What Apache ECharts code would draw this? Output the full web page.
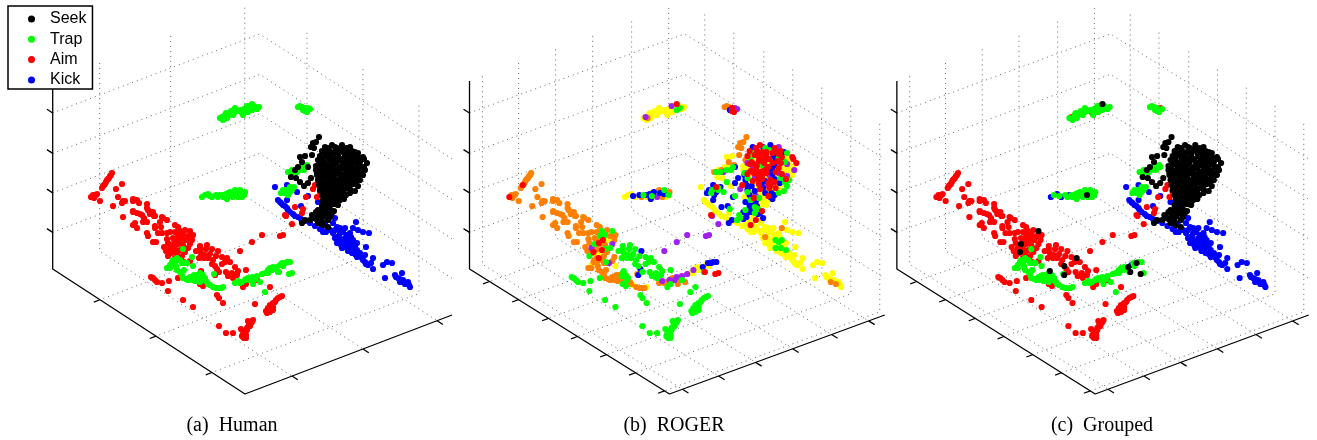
<!DOCTYPE html>
<html><head><meta charset="utf-8">
<style>html,body{margin:0;padding:0;background:#fff}#c{width:1317px;height:440px}</style>
<script src="https://cdn.jsdelivr.net/npm/echarts@6/dist/echarts.min.js"></script>
</head><body><div id="c"></div>
<script>
// Point positions in the Human panel's frame; label strings: k seek, g trap, r aim, b kick, o orange, y yellow, p purple.
// A label string's last letter carries on for the remaining points of the region.
const legendNames = ['Seek','Trap','Aim','Kick'];
const captions = ['(a)  Human','(b)  ROGER','(c)  Grouped'];

const trapTopLeft = [[222,117],[225,115],[224,118],[230,114],[235,112],[235,108],[242,113],[245,112],[248,112],[252,110],[247,106],[252,104],[255,108],[259,107],[228,116],[238,111],[226,113],[231,111],[233,115],[240,110],[244,109],[250,108],[254,106],[257,109],[220,118],[223,120],[227,118],[243,115],[249,106]];
const trapTopLeftRoger = 'pyoyyyyyygprgyyyy';
const trapTopLeftGrouped = 'rgggggrggggkggggg';
const trapTopRight = [[298,107],[302,107],[305,108],[308,108],[310,109],[307,112],[303,110],[300,106],[305,111]];
const trapTopRightRoger = 'oorpprbor';
const trapTopRightGrouped = 'gggrggggg';
const trapMid = [[202,197],[208,194],[212,197],[220,195],[223,197],[228,193],[227,198],[222,195],[225,197],[230,192],[235,190],[240,190],[245,192],[242,197],[233,197],[227,199],[216,195],[237,195],[205,195],[210,196],[218,197],[228,196],[232,194],[236,193],[240,194],[244,195],[238,197],[230,196],[226,194]];
const trapMidRoger = 'yyygyybbybogoypbboybogybbgoyb';
const trapMidGrouped = 'bbbbgggggggggggggkggggggggggg';
const trapNearUpper = [[288,172],[292,170],[297,172],[302,167],[306,167],[307,165],[300,170],[294,172],[290,172],[304,170]];
const trapNearUpperRoger = 'oypygog';
const trapNearLower = [[281,193],[285,193],[288,195],[290,187],[294,187],[286,190],[290,192],[283,190],[292,190],[287,193]];
const trapNearLowerRoger = 'bgbrbgbbgb';
const trapBandLeft = [[167,268],[170,265],[173,260],[177,258],[180,260],[185,263],[187,263],[183,249],[192,257],[193,266],[172,262],[175,263],[182,263],[170,268],[176,261]];
const trapBandLeftRoger = 'oyoroopgoyoyo';
const trapBandMid = [[177,270],[180,272],[182,275],[183,278],[188,280],[192,280],[197,278],[200,273],[203,275],[205,278],[200,282],[197,275],[207,282],[210,285],[213,287],[218,288],[223,287],[214,274],[195,281],[202,279],[186,279],[199,276],[204,280]];
const trapBandMidRoger = 'ooooooogggoooyooyoooogg';
const trapBandMidGrouped = 'g';
const trapBandRight = [[238,281],[242,282],[245,280],[248,278],[252,277],[257,276],[253,284],[260,282],[265,292],[240,283],[265,273],[270,268],[268,273],[273,267],[278,272],[282,263],[285,263],[290,262],[292,273],[272,270],[280,265],[277,267],[279,272],[289,274]];
const trapBandRightRoger = 'popoppoogoyyyygbbbryybrr';
const trapBandRightGrouped = 'ggggggggggggggggkgggbkkk';
const trapExtra = [[176,266],[184,270],[190,277],[194,275],[199,279],[208,284],[216,288],[221,288],[235,283],[246,279],[250,280],[255,279],[262,274],[268,270],[276,269],[283,266],[287,262]];
const trapExtraRoger = 'oooooooooopoppyyb';

const aimTop = [[112,173],[110,176],[108,179],[106,182],[104,185],[102,188],[93,195],[96,195],[91,197],[94,198],[97,194],[122,184],[116,189],[118,197],[100,201],[113,206],[123,201],[122,203],[125,201],[133,199],[137,200],[139,203],[133,201],[147,204],[147,208],[123,217],[133,211],[137,213],[142,215],[148,210],[153,212],[154,216],[163,218],[144,218],[133,212],[140,214],[147,222],[152,212],[155,216],[162,217],[167,220],[135,223],[133,225],[137,228],[155,226],[155,228],[161,227],[175,225],[178,227],[147,233],[148,236],[162,233],[167,233],[153,242],[156,242],[167,239],[164,247],[166,251],[171,253],[111,175],[109,178],[107,180],[105,184],[103,186]];
const aimTopRoger = 'ooooroooroo';
const aimCore = [[175,232],[180,231],[185,230],[190,231],[193,235],[178,236],[183,235],[188,236],[192,240],[176,240],[181,240],[186,240],[190,244],[173,244],[178,244],[183,245],[188,248],[170,248],[175,249],[180,250],[185,252],[172,252],[177,254],[182,256],[168,256],[175,258],[177,243]];
const aimCoreRoger = 'ogogoggooorypgoogpororyogoro';
const aimCoreGrouped = 'rrrkrrrrrrrrrkrrrrrrrkrrrrr';
const aimScatter = [[207,245],[212,249],[218,251],[200,249],[206,249],[201,253],[205,255],[208,258],[213,260],[227,258],[225,262],[222,264],[217,269],[226,272],[235,267],[232,273],[237,275],[233,278],[246,270],[215,266],[215,275],[201,271],[200,246]];
const aimScatterRoger = 'ggbgggggggggbgggggggbgg';
const aimScatterGrouped = 'rrrrrrrrrkrrrrrrrrrkkkr';
const aimExtra = [[210,254],[216,256],[204,258],[222,257],[230,262],[219,272],[228,276],[238,271],[212,264],[196,251],[199,258],[184,262],[190,261],[160,222],[150,214],[143,222],[158,233],[170,232],[173,238],[168,243]];
const aimExtraRoger = 'ggggggggggggoooooooo';
const aimSparseTop = [[240,251],[252,242],[262,235],[286,216],[292,224],[280,236],[283,235],[313,189],[295,207],[285,215],[320,192],[317,197],[306,197],[302,213],[303,209],[315,185]];
const aimSparseTopRoger = 'ppppppppbrgybygr';
const aimLowerLeft = [[153,278],[155,280],[157,282],[151,277],[162,283],[169,281],[168,291],[183,300],[193,307],[178,278],[200,284],[203,286],[217,295],[219,298],[223,303],[243,287],[255,304],[270,287],[257,280],[246,284]];
const aimLowerLeftRoger = 'g';
const aimBottom = [[219,326],[226,333],[233,333],[241,329],[253,320],[251,323],[248,327],[247,330],[245,333],[243,337],[248,321],[244,338],[250,326],[246,335],[252,322],[249,325],[247,328],[245,331],[243,334],[246,338],[242,336]];
const aimBottomRoger = 'g';
const aimStreak = [[282,296],[278,298],[275,302],[272,305],[268,308],[267,313],[273,307],[270,312],[270,305],[268,310],[280,297],[276,300],[273,303],[270,308],[269,310],[271,306],[266,311],[273,310]];
const aimStreakRoger = 'g';

const kickLine = [[280,202],[283,205],[287,208],[290,212],[293,214],[298,217],[287,200],[275,187],[287,185],[308,196],[297,192],[301,206],[292,188],[318,202],[323,212],[327,207],[335,218],[322,227],[325,224],[278,200],[281,203],[285,206],[288,210],[295,216],[301,219],[305,221],[310,223],[315,226],[320,229],[326,232],[330,230]];
const kickLineRoger = 'yyyyyybybggbgbbgbyy';
const kickBlob = [[323,232],[333,223],[337,227],[356,222],[353,228],[358,230],[363,232],[369,233],[333,233],[337,237],[340,233],[343,232],[347,235],[350,233],[340,240],[343,243],[347,240],[350,242],[353,240],[357,243],[337,243],[342,248],[347,248],[352,248],[357,250],[360,253],[352,253],[357,257],[362,258],[365,262],[368,265],[365,255],[371,263],[366,247],[373,258],[373,269],[335,230],[340,228],[345,228],[335,238],[345,238],[355,247],[344,245],[349,245],[354,244],[348,251],[355,254],[359,256],[363,260],[366,264],[339,236],[346,243],[351,237],[328,230],[341,245]];
const kickBlobRoger = 'yyyyoyyyyoyyyyyygggyyygggyyyyyyyyyyy';
const kickTail = [[383,265],[387,262],[392,263],[385,278],[395,275],[398,278],[402,273],[400,282],[403,280],[407,283],[410,287],[405,284],[408,282],[396,277],[400,279],[404,282],[409,285]];
const kickTailRoger = 'yyyyyyyoyyyoy';

const seekStem = [[319,137],[316,142],[313,143],[311,147],[314,148],[312,155],[300,157],[305,156],[302,162],[298,167],[295,170],[291,177],[296,178],[300,182],[308,183],[304,186],[311,178],[317,173],[320,174],[308,167]];
const seekStemRoger = 'ooooooyyoyoyygbybgrb';
const seekStemGrouped = 'kkkkkkkkkkkkkkkkkkggg';
const seekBlob = [
[325,147],[332,145],[342,145],[350,147],[337,148],
[322,151],[329,150],[334,152],[341,150],[347,152],[352,151],[358,153],
[320,156],[327,155],[331,157],[338,155],[345,156],[350,158],[356,155],[363,157],
[318,160],[324,162],[331,161],[337,160],[342,162],[349,161],[354,160],[360,162],[364,159],
[316,166],[322,164],[329,166],[334,165],[340,167],[346,165],[351,166],[358,164],[364,167],[367,163],
[316,170],[323,171],[328,169],[335,171],[340,170],[347,172],[352,170],[358,171],[365,170],
[317,175],[322,176],[329,174],[334,176],[341,175],[346,176],[353,174],[358,176],[363,175],
[318,180],[325,181],[330,179],[337,181],[342,180],[349,179],[354,181],[360,180],
[319,185],[324,186],[331,184],[336,186],[342,185],[348,186],[353,184],[358,186],
[320,190],[327,191],[332,189],[338,191],[344,190],[350,189],[355,191],
[322,195],[328,196],[335,194],[340,196],[346,195],[350,193],
[323,200],[328,201],[334,199],[340,200],[344,199],
[322,205],[329,206],[334,204],[338,205],
[318,210],[325,210],[330,209],[334,211],
[312,215],[319,214],[324,216],[330,214],
[310,220],[316,219],[322,221],[328,220],
[302,223],[305,220],[315,218],[318,223],[323,225],[328,227],[330,217],[332,213],[320,212]];
const seekBlobRoger =
 'brbpg'+'rrrgrrg'+'rrrrbgyr'+'orrryrgyr'+'yrrgrbypyr'+'yrrrbryyp'+'byrrpyrpy'+'brrbryyg'+'bbrpryyg'+'bbryyyg'+'bpyrbg'+'gbyyb'+'bbyy'+'gbgr'+'gbyb'+'gbyr'+'bbyyryyb'+'y';
const seekBlobGrouped = 'k';
const seekFill = [[328,148],[335,147],[346,148],[325,153],[331,154],[338,152],[344,153],[350,154],[355,152],[323,158],[329,159],[335,158],[341,159],[347,159],[353,157],[359,158],[320,163],[326,164],[336,163],[344,163],[352,163],[356,162],[319,168],[325,168],[332,168],[338,169],[344,168],[350,168],[355,168],[361,167],[319,173],[326,173],[332,172],[338,173],[344,174],[350,173],[356,173],[361,173],[320,178],[327,178],[334,179],[340,178],[346,179],[352,178],[357,179],[322,183],[328,183],[334,182],[340,183],[346,182],[351,183],[356,182],[323,188],[329,187],[335,188],[341,188],[347,188],[325,193],[331,193],[337,193],[343,193],[326,198],[331,198],[337,198],[342,197],[325,203],[331,203],[336,202],[322,208],[328,208],[316,212],[322,212],[327,213],[313,218],[319,217]];
const seekFillRoger = 'rbrgrrrrbgyrrbryprrrrgypyrbryyprrrbpyygprybgryybrrbgyybrryybbrgybbyybgbbggb';
const seekFillGrouped = 'k';

const regions = [
 {pts:aimTop,human:'r',roger:aimTopRoger,grouped:'r'},
 {pts:aimCore,human:'r',roger:aimCoreRoger,grouped:aimCoreGrouped},
 {pts:aimScatter,human:'r',roger:aimScatterRoger,grouped:aimScatterGrouped},
 {pts:aimExtra,human:'r',roger:aimExtraRoger,grouped:'r'},
 {pts:aimSparseTop,human:'r',roger:aimSparseTopRoger,grouped:'r'},
 {pts:aimLowerLeft,human:'r',roger:aimLowerLeftRoger,grouped:'r'},
 {pts:aimBottom,human:'r',roger:aimBottomRoger,grouped:'r'},
 {pts:aimStreak,human:'r',roger:aimStreakRoger,grouped:'r'},
 {pts:trapTopLeft,human:'g',roger:trapTopLeftRoger,grouped:trapTopLeftGrouped},
 {pts:trapTopRight,human:'g',roger:trapTopRightRoger,grouped:trapTopRightGrouped},
 {pts:trapMid,human:'g',roger:trapMidRoger,grouped:trapMidGrouped},
 {pts:trapNearUpper,human:'g',roger:trapNearUpperRoger,grouped:'g'},
 {pts:trapNearLower,human:'g',roger:trapNearLowerRoger,grouped:'g'},
 {pts:trapBandLeft,human:'g',roger:trapBandLeftRoger,grouped:'g'},
 {pts:trapBandMid,human:'g',roger:trapBandMidRoger,grouped:trapBandMidGrouped},
 {pts:trapBandRight,human:'g',roger:trapBandRightRoger,grouped:trapBandRightGrouped},
 {pts:trapExtra,human:'g',roger:trapExtraRoger,grouped:'g'},
 {pts:kickLine,human:'b',roger:kickLineRoger,grouped:'b'},
 {pts:kickBlob,human:'b',roger:kickBlobRoger,grouped:'b'},
 {pts:kickTail,human:'b',roger:kickTailRoger,grouped:'b'},
 {pts:seekStem,human:'k',roger:seekStemRoger,grouped:seekStemGrouped},
 {pts:seekBlob,human:'k',roger:seekBlobRoger,grouped:seekBlobGrouped},
 {pts:seekFill,human:'k',roger:seekFillRoger,grouped:seekFillGrouped}
];

// Box frame, as fractions of each edge
const origin = [52.7,269], edgeU = [192.3,125], edgeV = [207,-79], height = 188;
const zTicks = [.195,.405,.615,.83];
const humanUTicks = [.246,.537,.828], humanVTicks = [.227,.57,.928];
const fineUTicks = [.10,.245,.395,.54,.685,.83,.975], fineVTicks = [.06,.228,.40,.572,.753,.925];

const classes = {
 k:{name:'Seek',color:'#000000'}, g:{name:'Trap',color:'#00ff00'}, r:{name:'Aim',color:'#ff0000'}, b:{name:'Kick',color:'#0000ff'},
 o:{name:'Cluster O',color:'#ff8000'}, y:{name:'Cluster Y',color:'#ffff00'}, p:{name:'Cluster P',color:'#a020f0'}
};
const panels = [
 {key:'human',left:0,top:0,scale:1,uT:humanUTicks,vT:humanVTicks,order:'brgk',cx:227},
 {key:'roger',left:414.7,top:-9.76,scale:1.04,uT:fineUTicks,vT:fineVTicks,order:'yopbgr',cx:669},
 {key:'grouped',left:842.5,top:-10.26,scale:1.04,uT:fineUTicks,vT:fineVTicks,order:'brgk',cx:1097}
];
const P = (a,b,c)=>[origin[0]+a*edgeU[0]+b*edgeV[0], origin[1]+a*edgeU[1]+b*edgeV[1]-c*height];

const grids=[],xAxes=[],yAxes=[],series=[],titles=[];
panels.forEach((p,i)=>{
  grids.push({left:p.left,top:p.top,width:460*p.scale,height:440*p.scale,show:false});
  xAxes.push({type:'value',gridIndex:i,min:0,max:460,show:false});
  yAxes.push({type:'value',gridIndex:i,min:0,max:440,inverse:true,show:false});
  const line=(pts,style)=>series.push({type:'line',name:'frame',xAxisIndex:i,yAxisIndex:i,data:pts,showSymbol:false,silent:true,z:1,
    lineStyle:style,clip:false});
  const dot={color:'#666',width:1,type:[1,4]}, solid={color:'#000',width:1.3};
  zTicks.forEach(z=>line([P(0,0,z),P(0,1,z),P(1,1,z)],dot));
  p.vT.forEach(v=>{line([P(0,v,1),P(0,v,0),P(1,v,0)],dot);});
  p.uT.forEach(u=>{line([P(u,1,1),P(u,1,0),P(u,0,0)],dot);});
  line([P(0,0,1),P(0,0,0),P(1,0,0),P(1,1,0)],solid);
  p.uT.forEach(u=>line([P(u,0,0),P(u,-.03,0)],solid));
  p.vT.forEach(v=>line([P(1,v,0),P(1.03,v,0)],solid));
  zTicks.forEach(z=>line([P(0,0,z),P(-.03,0,z)],solid));
  const buckets={};
  regions.forEach(r=>{
    const s=r[p.key];
    r.pts.forEach((pt,j)=>{const c=s[Math.min(j,s.length-1)];(buckets[c]=buckets[c]||[]).push(pt);});
  });
  p.order.split('').forEach((c,n)=>{
    series.push({type:'scatter',name:classes[c].name,xAxisIndex:i,yAxisIndex:i,data:buckets[c]||[],symbol:'circle',symbolSize:6.2,
      itemStyle:{color:classes[c].color,opacity:1},z:2+n,silent:true});
  });
  titles.push({text:captions[i],left:p.cx,top:411,textAlign:'center',textStyle:{fontFamily:'Liberation Serif',fontSize:20,fontWeight:'normal',color:'#000'}});
});

const chart=echarts.init(document.getElementById('c'));
chart.setOption({
  animation:false,backgroundColor:'#fff',title:titles,grid:grids,xAxis:xAxes,yAxis:yAxes,series,
  legend:{data:legendNames,orient:'vertical',left:8,top:6,icon:'circle',itemWidth:7,itemHeight:7,itemGap:2.3,padding:[4,6,0,20],
    backgroundColor:'#fff',borderColor:'#000',borderWidth:1.5,borderRadius:0,selectedMode:false,z:20,
    textStyle:{fontFamily:'Liberation Sans',fontSize:16,color:'#000',lineHeight:18,padding:[0,0,0,10]}}
});
</script></body></html>
